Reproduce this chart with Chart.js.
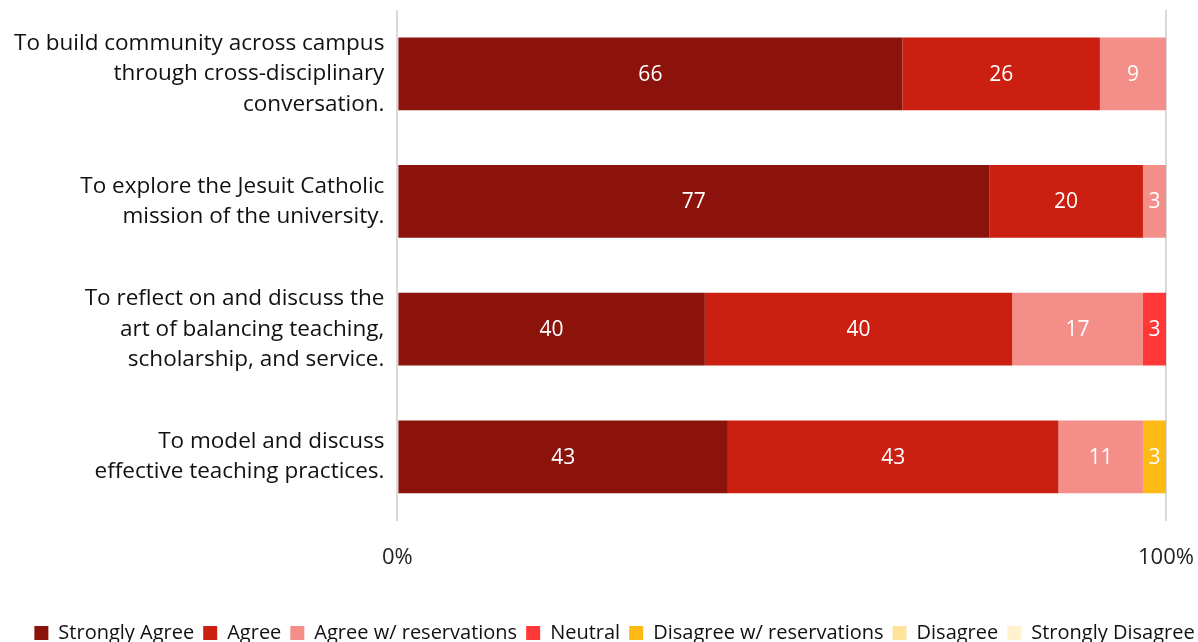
<!DOCTYPE html>
<html>
<head>
<meta charset="utf-8">
<script src="https://cdn.jsdelivr.net/npm/chart.js@4/dist/chart.umd.min.js"></script>
<style>
  html, body { margin: 0; padding: 0; background: #fff; }
  #wrap { width: 1198px; height: 642px; }
</style>
</head>
<body>
<div id="wrap"><canvas id="chart"></canvas></div>
<script>
// categories (multi-line labels)
const categories = [
  ['To build community across campus', 'through cross-disciplinary', 'conversation.'],
  ['To explore the Jesuit Catholic', 'mission of the university.'],
  ['To reflect on and discuss the', 'art of balancing teaching,', 'scholarship, and service.'],
  ['To model and discuss', 'effective teaching practices.']
];

// percentage of respondents per response, one value per category
const stronglyAgree   = [65.7, 77, 40, 43];
const agree           = [25.7, 20, 40, 43];
const agreeRes        = [8.6, 3, 17, 11];
const neutral         = [0, 0, 3, 0];
const disagreeRes     = [0, 0, 0, 3];
const disagree        = [0, 0, 0, 0];
const stronglyDisagree = [0, 0, 0, 0];

const xTicks = [0, 100];

const series = [
  { label: 'Strongly Agree', data: stronglyAgree, color: '#8b130b' },
  { label: 'Agree', data: agree, color: '#cb1f12' },
  { label: 'Agree w/ reservations', data: agreeRes, color: '#f48e88' },
  { label: 'Neutral', data: neutral, color: '#ff3737' },
  { label: 'Disagree w/ reservations', data: disagreeRes, color: '#fdb914' },
  { label: 'Disagree', data: disagree, color: '#ffe39b' },
  { label: 'Strongly Disagree', data: stronglyDisagree, color: '#fff2cc' }
];

const FONT = '"Open Sans", "Noto Sans", sans-serif';

// draws the value inside each segment
const segmentLabels = {
  id: 'segmentLabels',
  afterDatasetsDraw(chart) {
    const ctx = chart.ctx;
    ctx.save();
    ctx.font = '21px ' + FONT;
    ctx.fillStyle = '#ffffff';
    ctx.textAlign = 'center';
    ctx.textBaseline = 'middle';
    chart.data.datasets.forEach((ds, i) => {
      const meta = chart.getDatasetMeta(i);
      meta.data.forEach((bar, j) => {
        const v = ds.data[j];
        if (!v) return;
        const x = (bar.x + bar.base) / 2;
        ctx.fillText(Math.round(v), x, bar.y + 1);
      });
    });
    ctx.restore();
  }
};

// nudge the legend closer to the bottom edge
const legendShift = {
  id: 'legendShift',
  afterLayout(chart) {
    const l = chart.legend;
    if (!l) return;
    l.top += 19; l.bottom += 19;
    l.left += 11; l.right += 11;
  }
};

new Chart(document.getElementById('chart'), {
  type: 'bar',
  data: {
    labels: categories,
    datasets: series.map(s => ({
      label: s.label,
      data: s.data,
      backgroundColor: s.color,
      borderWidth: 0,
      barPercentage: 0.57,
      categoryPercentage: 1.0
    }))
  },
  options: {
    indexAxis: 'y',
    responsive: true,
    maintainAspectRatio: false,
    animation: false,
    layout: { padding: { top: 10, right: 0, left: 9, bottom: 8 } },
    scales: {
      x: {
        stacked: true,
        min: 0,
        max: 100,
        afterBuildTicks: axis => { axis.ticks = xTicks.map(v => ({ value: v })); },
        afterFit: scale => { scale.paddingLeft = 0; scale.paddingRight = 32; },
        grid: { color: '#d9d9d9', lineWidth: 2, drawTicks: false },
        border: { display: false },
        ticks: {
          padding: 24,
          color: '#222',
          font: { family: FONT, size: 22 },
          callback: v => v + '%'
        }
      },
      y: {
        stacked: true,
        grid: { display: false },
        border: { display: false },
        afterFit: scale => { scale.paddingTop = 0; scale.paddingBottom = 0; },
        ticks: {
          padding: 5,
          color: '#111',
          font: { family: FONT, size: 22.5, lineHeight: 1.36 }
        }
      }
    },
    plugins: {
      tooltip: { enabled: false },
      legend: {
        position: 'bottom',
        labels: {
          boxWidth: 14,
          boxHeight: 14,
          padding: 9,
          color: '#111',
          font: { family: FONT, size: 20 }
        }
      }
    }
  },
  plugins: [segmentLabels, legendShift]
});
</script>
</body>
</html>
